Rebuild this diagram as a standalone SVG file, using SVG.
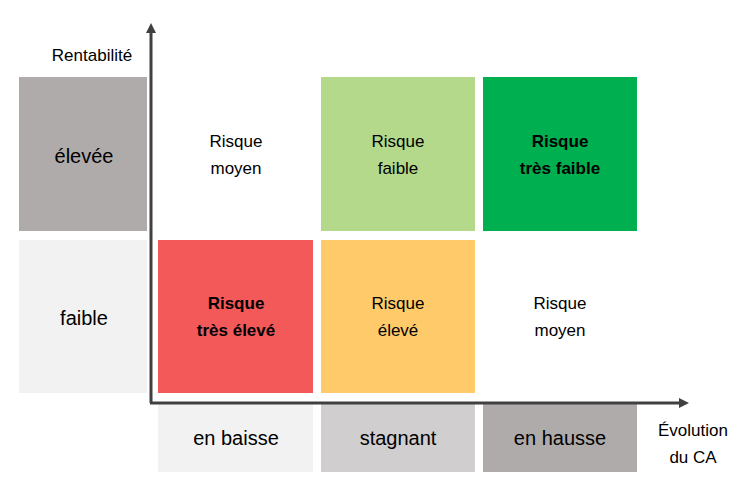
<svg xmlns="http://www.w3.org/2000/svg" width="755" height="494" viewBox="0 0 755 494">
<defs>
<style>
text{font-family:"Liberation Sans","Noto Sans",sans-serif;fill:#000;text-anchor:middle}
.s{font-size:17px}
.l{font-size:20px}
.b{font-weight:bold}
.ax{stroke:#404040;stroke-width:3;fill:none}
</style>
<marker id="ah" markerWidth="10" markerHeight="10" refX="5" refY="5" orient="auto" markerUnits="userSpaceOnUse"><path d="M0,0 L10,5 L0,10 Z" fill="#404040"/></marker>
</defs>
<rect width="755" height="494" fill="#fff"/>
<g id="row-elevee"><rect x="19" y="77" width="128" height="154" fill="#AFABAB"/><text class="l" x="84" y="163">élevée</text></g>
<g id="row-faible"><rect x="19" y="240" width="128" height="153" fill="#F2F2F2"/><text class="l" x="84" y="325">faible</text></g>
<g id="c11"><text class="s" x="236" y="147">Risque</text><text class="s" x="236" y="174">moyen</text></g>
<g id="c12"><rect x="321" y="77" width="154" height="154" fill="#B4D98A"/><text class="s" x="398" y="147">Risque</text><text class="s" x="398" y="174">faible</text></g>
<g id="c13"><rect x="483" y="77" width="154" height="154" fill="#00B050"/><text class="s b" x="560" y="147">Risque</text><text class="s b" x="560" y="174">très faible</text></g>
<g id="c21"><rect x="158" y="240" width="155" height="153" fill="#F4595A"/><text class="s b" x="236" y="309">Risque</text><text class="s b" x="236" y="336">très élevé</text></g>
<g id="c22"><rect x="321" y="240" width="154" height="153" fill="#FFCB6A"/><text class="s" x="398" y="309">Risque</text><text class="s" x="398" y="336">élevé</text></g>
<g id="c23"><text class="s" x="560" y="309">Risque</text><text class="s" x="560" y="336">moyen</text></g>
<g id="col-baisse"><rect x="158" y="404" width="155" height="68" fill="#F2F2F2"/><text class="l" x="236" y="445">en baisse</text></g>
<g id="col-stagnant"><rect x="321" y="404" width="154" height="68" fill="#D0CECE"/><text class="l" x="398" y="445">stagnant</text></g>
<g id="col-hausse"><rect x="483" y="404" width="154" height="68" fill="#AFABAB"/><text class="l" x="560" y="445">en hausse</text></g>
<g id="connectors">
<path class="ax" d="M151,403 V28" marker-end="url(#ah)"/>
<path class="ax" d="M150,403 H684" marker-end="url(#ah)"/>
</g>
<text class="s" x="92" y="61">Rentabilité</text>
<text class="s" x="693" y="436">Évolution</text>
<text class="s" x="693" y="463">du CA</text>
</svg>
